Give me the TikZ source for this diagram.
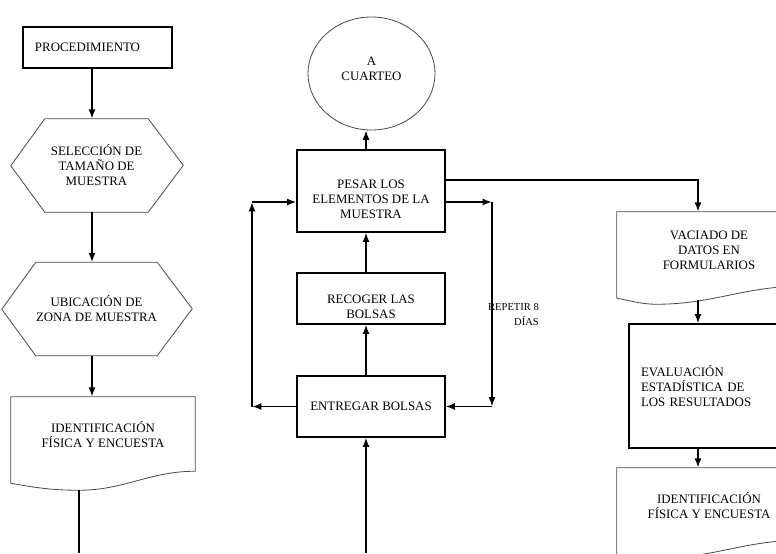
\documentclass[tikz,border=0pt]{standalone}
\usepackage{fontspec}
\setmainfont{Liberation Serif}
\usetikzlibrary{positioning,shapes,arrows.meta,calc}
\begin{document}
\begin{tikzpicture}[x=0.03cm,y=-0.03cm,>={Latex[length=8pt,width=6pt]},
    font=\fontsize{11}{12.8}\selectfont]
  \tikzstyle{box} = [rectangle, draw, line width=1pt, inner sep=0pt, align=center]
  \tikzstyle{hexa} = [inner sep=0pt, minimum width=3.09cm, minimum height=2.79cm, align=center]
  \tikzstyle{docu} = [inner sep=0pt, minimum width=5.52cm, minimum height=2.28cm, align=center]
  \tikzstyle{outl} = [draw=black!70, line width=0.7pt]
  \tikzstyle{conn} = [line width=1.4pt]
  \useasboundingbox (0,0) rectangle (776,553);
  \clip (0,0) rectangle (776,553);
  % columna izquierda
  \coordinate (colA) at (92,0);
  \node[box, minimum width=4.47cm, minimum height=1.23cm, inner xsep=0.36cm,
    text width=3.75cm, align=left] (proc) at (97.5,47.5) {PROCEDIMIENTO};
  \node[hexa] (sel) at (96.5,165.5) {SELECCIÓN DE\\TAMAÑO DE\\MUESTRA};
  \node[hexa] (ubi) at (96.5,309) {UBICACIÓN DE\\ZONA DE MUESTRA};
  \foreach \h in {sel,ubi}
    \draw[outl] (\h.north west) -- (\h.north east) -- ++(35,46.5) -- (\h.south east)
      -- (\h.south west) -- ++(-34,-46.5) -- cycle;
  \node[docu] (ide) at (103,435) {IDENTIFICACIÓN\\FÍSICA Y ENCUESTA};
  \draw[outl] ($(ide.south west)+(0,10)$) -- (ide.north west) -- (ide.north east)
    -- ($(ide.south east)+(0,-2)$) to[out=180,in=0] ($(ide.south west)+(68,17)$)
    coordinate (idedip) to[out=180,in=-10] ($(ide.south west)+(0,10)$);
  % columna central
  \coordinate (colB) at (366,0);
  \coordinate (inB) at (366,553);
  \coordinate (loopL) at (252,0);
  \coordinate (loopR) at (492,0);
  \node[outl, ellipse, minimum width=3.81cm, minimum height=3.39cm, inner sep=0pt,
    align=center] (cua) at (371.5,73.5) {A\\CUARTEO\rule[-8pt]{0pt}{0pt}};
  \node[box, minimum width=4.44cm, minimum height=2.46cm] (pes) at (371,191)
    {\rule{0pt}{21pt}PESAR LOS\\ELEMENTOS DE LA\\MUESTRA};
  \node[box, minimum width=4.44cm, minimum height=1.53cm] (rec) at (371,298.5)
    {\rule{0pt}{21pt}RECOGER LAS\\BOLSAS};
  \node[box, minimum width=4.44cm, minimum height=1.83cm] (ent) at (371,406.5)
    {ENTREGAR BOLSAS};
  \node[font=\fontsize{9}{12.8}\selectfont, align=right, inner sep=0pt] (rep)
    at (513.5,314.5) {REPETIR 8\\DÍAS};
  \coordinate (pesin) at ([yshift=-0.33cm]pes.west);
  \coordinate (pesout) at ([yshift=-0.33cm]pes.east);
  % columna derecha
  \coordinate (colC) at (698,0);
  \node[docu] (vac) at (709,250) {VACIADO DE\\DATOS EN\\FORMULARIOS};
  \draw[outl] ($(vac.south west)+(0,10)$) -- (vac.north west) -- (vac.north east)
    -- ($(vac.south east)+(0,-2)$) to[out=180,in=0] ($(vac.south west)+(40,16)$)
    to[out=180,in=-10] ($(vac.south west)+(0,10)$);
  \node[box, minimum width=5.43cm, minimum height=3.72cm, inner xsep=0.36cm,
    text width=4.71cm, align=left] (eva) at (719.5,386)
    {EVALUACIÓN\\ESTADÍSTICA DE\\LOS RESULTADOS};
  \node[docu] (ide2) at (709,506) {IDENTIFICACIÓN\\FÍSICA Y ENCUESTA};
  \draw[outl] ($(ide2.south west)+(0,10)$) -- (ide2.north west) -- (ide2.north east)
    -- ($(ide2.south east)+(0,-4)$) to[out=180,in=0] ($(ide2.south west)+(40,14)$)
    to[out=180,in=-10] ($(ide2.south west)+(0,10)$);
  % conectores
  \draw[conn,->] (proc.south -| colA) -- (sel.north -| colA);
  \draw[conn,->] (sel.south -| colA) -- (ubi.north -| colA);
  \draw[conn,->] (ubi.south -| colA) -- (ide.north -| colA);
  \draw[conn] (idedip) -- (idedip |- inB);
  \draw[conn,->] (inB) -- (colB |- ent.south);
  \draw[conn,->] (colB |- ent.north) -- (colB |- rec.south);
  \draw[conn,->] (colB |- rec.north) -- (colB |- pes.south);
  \draw[conn,->] (colB |- pes.north) -- (colB |- cua.south);
  \draw[conn,->] (ent.west) -- (loopL |- ent.west);
  \draw[conn,->] (loopL |- ent.west) -- (loopL |- pesin);
  \draw[conn,->] (loopL |- pesin) -- (pesin);
  \draw[conn,->] (pesout) -- (loopR |- pesout);
  \draw[conn,->] (loopR |- pesout) -- (loopR |- ent.east);
  \draw[conn,->] (loopR |- ent.east) -- (ent.east);
  \draw[conn,->] ([yshift=0.33cm]pes.east) -| (colC |- vac.north);
  \draw[conn,->] ([yshift=-0.36cm]colC |- vac.south) -- (colC |- eva.north);
  \draw[conn,->] (colC |- eva.south) -- (colC |- ide2.north);
\end{tikzpicture}
\end{document}
